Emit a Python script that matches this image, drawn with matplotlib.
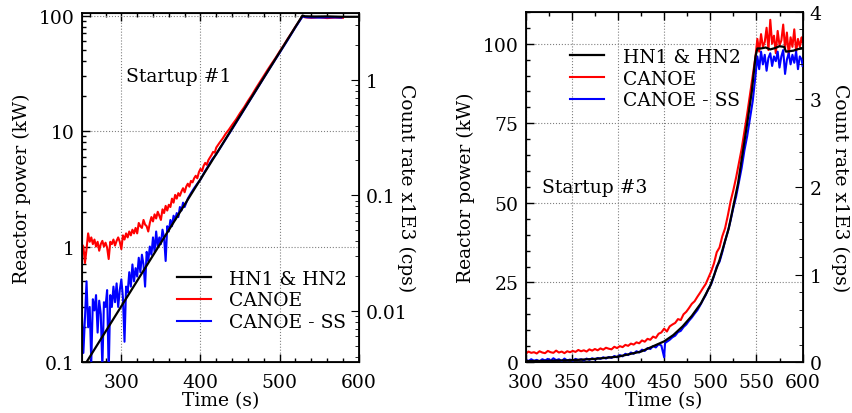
import numpy as np
import matplotlib
matplotlib.use('Agg')
import matplotlib.pyplot as plt
from matplotlib.ticker import MultipleLocator, LogLocator, FuncFormatter, NullFormatter

plt.rcParams['font.family'] = 'DejaVu Serif'
plt.rcParams['font.size'] = 13.5

# ---- Startup #1 (log scale) ----
s1_hn_t = [256, 529, 532, 545, 560, 580, 600]
s1_hn = [0.1, 100, 98.5, 98.0, 98.3, 97.5, 97.5]

s1_canoe_t = list(range(250, 422, 2)) + [424, 428, 432, 436, 440, 445, 450, 455, 460,
                                         465, 470, 475, 480, 485, 490, 495, 500, 505,
                                         510, 515, 520, 525, 529, 532, 540, 550, 560,
                                         570, 580]
s1_canoe = [1.05, 1.0, 0.72, 0.95, 1.3, 1.1, 1.2, 1.05, 1.15, 1.0,
            1.1, 0.92, 1.05, 1.12, 1.0, 1.08, 0.98, 0.78, 1.1, 1.05,
            1.15, 1.02, 1.12, 1.2, 1.1, 0.95, 1.25, 1.15, 1.3, 1.2,
            1.35, 1.25, 1.4, 1.3, 1.45, 1.3, 1.6, 1.5, 1.45, 1.7,
            1.55, 1.5, 1.35, 1.6, 1.8, 1.65, 1.9, 1.75, 2.0, 1.85,
            1.7, 2.1, 1.95, 2.25, 2.05, 2.3, 2.2, 2.6, 2.4, 2.8,
            2.6, 2.9, 2.75, 3.0, 3.2, 2.95, 3.3, 3.5, 3.3, 3.7,
            3.6, 3.9, 4.1, 3.9, 4.4, 4.7, 4.5, 5.0, 5.3, 5.1,
            5.6, 5.9, 6.2, 6.6, 6.5, 7.2,
            7.9, 8.6, 9.5, 10.3, 11.3, 12.6, 14.3, 16.0, 18.2,
            20.5, 23.4, 26.5, 30.0, 34.0, 38.3, 43.0, 48.8, 55.0,
            62.5, 70.5, 80.0, 90.0, 99.0, 96.5, 95.5, 96.5, 95.0,
            96.0, 95.5]

s1_ss_t = list(range(250, 382, 2)) + [384, 388, 392, 396, 400, 405, 410, 415, 420,
                                      430, 440, 450, 460, 470, 480, 490, 500, 510,
                                      520, 529, 535, 550, 565, 578]
s1_ss = [0.27, 0.12, 0.24, 0.5, 0.2, 0.3, 0.1, 0.35, 0.28, 0.38,
         0.18, 0.34, 0.26, 0.09, 0.33, 0.3, 0.42, 0.08, 0.38, 0.3,
         0.45, 0.33, 0.48, 0.3, 0.42, 0.52, 0.36, 0.15, 0.45, 0.4,
         0.6, 0.45, 0.7, 0.5, 0.65, 0.55, 0.8, 0.6, 0.85, 0.7,
         0.45, 0.9, 0.75, 1.0, 0.85, 1.2, 0.9, 1.35, 1.0, 1.2,
         1.05, 1.4, 1.2, 0.75, 1.5, 1.35, 1.7, 1.5, 1.85, 1.7,
         1.95, 1.8, 2.2, 2.05, 2.4, 2.2,
         2.6, 2.9, 3.2, 3.5, 3.8, 4.4, 5.0, 5.7, 6.3,
         8.1, 10.4, 13.4, 17.3, 22.3, 28.8, 37.0, 47.5, 61.0,
         79.0, 98.0, 96.5, 96.0, 96.5, 96.0]

# ---- Startup #3 (linear scale) ----
s3_hn_t = [300, 325, 350, 375, 400, 425, 450, 460, 470, 480, 490, 500, 510, 520,
           530, 540, 545, 549, 551, 555, 560, 565, 570, 575, 580, 582, 590, 595, 600]
s3_hn = [0.3, 0.4, 0.6, 1.0, 1.7, 3.3, 6.5, 8.5, 11.2, 14.5, 18.5, 24.0, 32.0, 42.0,
         56.0, 75.0, 85.0, 96.0, 98.5, 98.5, 98.8, 98.2, 98.6, 99.2, 99.0, 97.5, 97.8,
         98.3, 98.5]

s3_canoe_t = list(range(300, 550, 3)) + list(range(551, 601, 2)) + [600]
s3_canoe = [2.6, 3.3, 2.9, 3.1, 2.7, 3.4, 3.0, 2.8, 3.5, 3.1,
            2.9, 3.6, 3.0, 3.3, 2.8, 3.4, 3.1, 3.5, 3.2, 3.8,
            3.4, 3.7, 3.3, 4.0, 3.6, 4.1, 3.7, 4.3, 3.9, 4.5,
            4.2, 4.0, 4.8, 4.4, 5.0, 4.7, 5.4, 5.1, 5.8, 5.5,
            6.2, 5.9, 6.8, 6.4, 7.3, 7.0, 8.0, 7.6, 8.9, 9.3,
            10.5, 9.6, 11.2, 11.8, 12.3, 13.5, 13.2, 15.0, 15.8, 17.0,
            18.3, 19.1, 20.5, 21.8, 23.2, 24.5, 26.5, 28.5, 31.0, 34.5,
            36.0, 39.5, 42.0, 46.0, 50.5, 54.0, 58.0, 62.5, 67.0, 72.5,
            78.0, 84.0, 90.0, 96.0,
            101.5, 97.5, 103.0, 99.0, 100.5, 105.0, 98.0, 107.5, 100.0, 102.5,
            97.0, 104.0, 99.5, 101.0, 106.0, 98.5, 103.5, 96.5, 102.0, 99.0,
            104.5, 97.5, 101.5, 99.0, 102.0, 100.5]

s3_ss_t = list(range(300, 450, 3)) + [450, 451, 453, 456, 459, 462, 465, 468, 471,
                                      474, 477, 480, 483, 486, 489, 492, 495, 498,
                                      501, 504, 507, 510, 513, 516, 519, 522, 525,
                                      528, 531, 534, 537, 540, 543, 546, 549] \
    + list(range(551, 601, 2)) + [600]
s3_ss = [0.8, 0.3, 0.9, 0.4, 0.7, 0.2, 0.9, 0.5, 1.0, 0.4,
         1.2, 0.6, 0.9, 0.3, 1.1, 0.5, 0.8, 0.4, 1.0, 0.6,
         0.9, 0.5, 1.1, 0.7, 1.2, 0.8, 1.3, 1.0, 1.5, 1.1,
         1.6, 1.3, 1.9, 1.5, 2.2, 1.8, 2.6, 2.2, 3.0, 2.6,
         3.4, 3.0, 3.9, 3.5, 4.4, 4.1, 5.0, 4.6, 5.6, 5.2,
         1.5, 6.0, 6.4, 7.0, 7.8, 8.3, 9.4, 9.8, 11.0,
         11.8, 13.0, 14.0, 15.2, 16.3, 17.8, 19.5, 21.0, 23.0,
         24.5, 27.0, 30.0, 31.5, 34.5, 38.0, 41.0, 44.5, 48.5,
         52.0, 56.5, 61.0, 66.5, 71.0, 76.5, 82.0, 90.0,
         96.0, 92.0, 97.5, 93.5, 96.5, 91.5, 95.5, 97.0, 93.0, 96.0,
         94.5, 97.5, 92.5, 96.0, 98.0, 90.5, 95.0, 97.0, 93.5, 96.5,
         94.0, 97.5, 92.0, 96.0, 95.0, 93.0]

labels = ['HN1 & HN2', 'CANOE', 'CANOE - SS']


def style_axis(ax):
    ax.tick_params(which='both', direction='in', top=True, width=1.0)
    ax.tick_params(which='major', length=6)
    ax.tick_params(which='minor', length=3)
    ax.tick_params(axis='x', which='major', pad=8)
    ax.tick_params(axis='y', which='major', pad=5)
    for sp in ax.spines.values():
        sp.set_linewidth(1.3)


def style_twin(ax, pad):
    ax.tick_params(which='both', direction='in')
    ax.tick_params(which='major', length=6, pad=5)
    ax.tick_params(which='minor', length=3)
    ax.set_ylabel('Count rate x1E3 (cps)', rotation=270, labelpad=pad)


fig = plt.figure(figsize=(8.52, 4.14), dpi=100)
ax1 = fig.add_axes([0.096, 0.123, 0.325, 0.843])
ax3 = fig.add_axes([0.617, 0.123, 0.325, 0.846])

# left panel
ax1.plot(s1_canoe_t, s1_canoe, color='red', lw=1.5, label=labels[1], zorder=2)
ax1.plot(s1_ss_t, s1_ss, color='blue', lw=1.5, label=labels[2], zorder=3)
ax1.plot(s1_hn_t, s1_hn, color='black', lw=1.6, label=labels[0], zorder=4)
ax1.set_yscale('log')
ax1.set_xlim(250, 600)
ax1.set_ylim(0.1, 105)
ax1.xaxis.set_major_locator(MultipleLocator(100))
ax1.xaxis.set_minor_locator(MultipleLocator(20))
ax1.yaxis.set_major_formatter(FuncFormatter(lambda v, p: '%g' % v))
ax1.grid(True, which='major', ls=':', color='gray', lw=0.8)
ax1.set_xlabel('Time (s)', labelpad=0)
ax1.set_ylabel('Reactor power (kW)', labelpad=6)
style_axis(ax1)
ax1.text(0.16, 0.82, 'Startup #1', transform=ax1.transAxes, va='center')
h, l = ax1.get_legend_handles_labels()
order = [2, 0, 1]
ax1.legend([h[i] for i in order], [l[i] for i in order], frameon=False,
           loc='lower right', bbox_to_anchor=(1.02, 0.04), handlelength=1.8,
           handletextpad=1.0, labelspacing=0.2)

ax2 = ax1.twinx()
ax2.set_yscale('log')
ax2.set_ylim(0.1 / 27.8, 105 / 27.8)
ax2.yaxis.set_major_locator(LogLocator(base=10))
ax2.yaxis.set_minor_locator(LogLocator(base=10, subs=np.arange(2, 10)))
ax2.yaxis.set_major_formatter(FuncFormatter(lambda v, p: '%g' % v))
ax2.yaxis.set_minor_formatter(NullFormatter())
style_twin(ax2, 6)

# right panel
ax3.plot(s3_canoe_t, s3_canoe, color='red', lw=1.5, label=labels[1], zorder=2)
ax3.plot(s3_ss_t, s3_ss, color='blue', lw=1.5, label=labels[2], zorder=3)
ax3.plot(s3_hn_t, s3_hn, color='black', lw=1.6, label=labels[0], zorder=4)
ax3.set_xlim(300, 600)
ax3.set_ylim(0, 110)
ax3.xaxis.set_major_locator(MultipleLocator(50))
ax3.xaxis.set_minor_locator(MultipleLocator(25))
ax3.yaxis.set_major_locator(MultipleLocator(25))
ax3.yaxis.set_minor_locator(MultipleLocator(5))
ax3.grid(True, which='major', ls=':', color='gray', lw=0.8)
ax3.set_xlabel('Time (s)', labelpad=0)
ax3.set_ylabel('Reactor power (kW)', labelpad=6)
style_axis(ax3)
ax3.text(0.06, 0.50, 'Startup #3', transform=ax3.transAxes, va='center')
h, l = ax3.get_legend_handles_labels()
ax3.legend([h[i] for i in order], [l[i] for i in order], frameon=False,
           loc='upper left', bbox_to_anchor=(0.1, 0.945), handlelength=1.8,
           handletextpad=1.0, labelspacing=0.2)

ax4 = ax3.twinx()
ax4.set_ylim(0, 4)
ax4.yaxis.set_major_locator(MultipleLocator(1))
ax4.yaxis.set_minor_locator(MultipleLocator(0.2))
style_twin(ax4, 20)

fig.savefig('out.png', dpi=100)
